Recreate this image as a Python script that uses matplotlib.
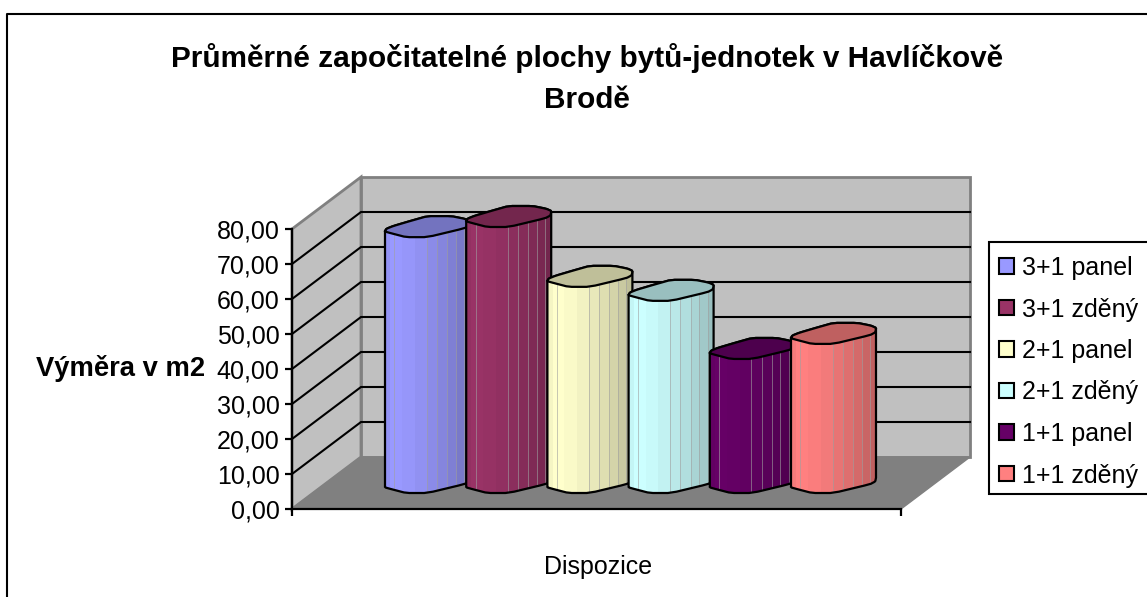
import matplotlib
matplotlib.use('Agg')
import matplotlib.pyplot as plt
from matplotlib.lines import Line2D
from matplotlib.patches import Patch, Polygon, Rectangle
import numpy as np

plt.rcParams['font.family'] = ['Liberation Sans', 'DejaVu Sans']

W, H = 1147, 597

# data
series = ['3+1 panel', '3+1 zděný', '2+1 panel', '2+1 zděný', '1+1 panel', '1+1 zděný']
values = [73.1, 76.0, 58.9, 54.9, 38.3, 42.6]
colors = ['#9999FF', '#993366', '#FFFFCC', '#CCFFFF', '#660066', '#FF8080']
y_ticks = [0, 10, 20, 30, 40, 50, 60, 70, 80]
y_labels = ['0,00', '10,00', '20,00', '30,00', '40,00', '50,00', '60,00', '70,00', '80,00']

# plot box in pixels, the y axis is the real value scale
X0, X1, Y0, Y80 = 292, 901, 509, 229
PX_X = X1 - X0
PX_V = (Y0 - Y80) / 80
DEPTH_X = 69 / PX_X
DEPTH_V = 52 / PX_V

# bar layout, as fractions of the axis
BAR_LEFT = (385 - X0) / PX_X
BAR_STEP = 81.2 / PX_X
BAR_W = 85 / PX_X
BAR_BASE = 16 / PX_V
CAP_H = 21 / PX_V

# lumpy 3d cylinder outline used by the old Excel chart
cap_u = np.array([0, .02, .10, .30, .50, .78, .94, 1, .99, .93, .50, .25, .08])
cap_w = np.array([.27, .40, .53, .77, 1, 1, .87, .76, .55, .42, 0, 0, .18])
strip_edges = [0, .06, .11, .2, .35, .49, .61, .73, .83, .93, 1]
strip_shade = [.96, 1, 1, .98, .95, .91, .87, .83, .79, .75]
seam_edges = [.11, .49, .61, .73, .83, .93]


def shade(col, k):
    return tuple(np.array(matplotlib.colors.to_rgb(col)) * k)


def smooth(u, w):
    # light corner cutting, then start at the leftmost point
    nu, nw = np.roll(u, -1), np.roll(w, -1)
    su = np.column_stack([.85 * u + .15 * nu, .15 * u + .85 * nu]).ravel()
    sw = np.column_stack([.85 * w + .15 * nw, .15 * w + .85 * nw]).ravel()
    start = np.argmin(su)
    su, sw = np.roll(su, -start), np.roll(sw, -start)
    su = (su - su.min()) / (su.max() - su.min())
    return su, sw


cap_u, cap_w = smooth(cap_u, cap_w)
right_i = int(np.argmax(cap_u))

fig = plt.figure(figsize=(W / 100, H / 100), dpi=100)
ax = fig.add_axes([X0 / W, 1 - Y0 / H, PX_X / W, (Y0 - Y80) / H])
ax.set_xlim(0, 1)
ax.set_ylim(0, 80)
ax.patch.set_visible(False)

# walls and floor
ax.add_patch(Polygon([(0, 0), (DEPTH_X, DEPTH_V), (DEPTH_X, 80 + DEPTH_V), (0, 80)],
                     fc='#C0C0C0', ec='#808080', lw=2, clip_on=False, zorder=1))
ax.add_patch(Rectangle((DEPTH_X, DEPTH_V), 1, 80, fc='#C0C0C0', ec='#808080', lw=2,
                       clip_on=False, zorder=1))
ax.add_patch(Polygon([(0, 0), (1, 0), (1 + DEPTH_X, DEPTH_V), (DEPTH_X, DEPTH_V)],
                     fc='#808080', ec='#808080', lw=1, clip_on=False, zorder=1))

for v in y_ticks[1:-1]:
    ax.plot([0, DEPTH_X, 1 + DEPTH_X], [v, v + DEPTH_V, v + DEPTH_V], color='black',
            lw=1.5, clip_on=False, zorder=2, solid_joinstyle='miter')

# bars
for i, (val, col) in enumerate(zip(values, colors)):
    left = BAR_LEFT + i * BAR_STEP
    z = 10 + i
    xs = left + cap_u * BAR_W
    low = BAR_BASE + cap_w * CAP_H
    high = low + val
    # silhouette: upper outline of the top, then lower outline of the base
    body = list(zip(xs[:right_i + 1], high[:right_i + 1])) + \
        list(zip(xs[right_i:], low[right_i:])) + [(xs[0], low[0])]
    outline = Polygon(body, fc='none', ec='none', zorder=z, clip_on=False)
    ax.add_patch(outline)
    for j in range(len(strip_shade)):
        r = Rectangle((left + strip_edges[j] * BAR_W, BAR_BASE - 1),
                      (strip_edges[j + 1] - strip_edges[j]) * BAR_W + .0005, val + CAP_H + 2,
                      fc=shade(col, strip_shade[j]), ec='none', zorder=z)
        ax.add_patch(r)
        r.set_clip_box(None)
        r.set_clip_path(outline)
    for e in seam_edges:
        seam = Line2D([left + e * BAR_W] * 2, [BAR_BASE - 1, BAR_BASE + val + CAP_H],
                      color='#A0A0A0', lw=.6, alpha=.7, zorder=z)
        ax.add_line(seam)
        seam.set_clip_box(None)
        seam.set_clip_path(outline)
    ax.add_patch(Polygon(body, fc='none', ec='black', lw=1.6, zorder=z + .1, clip_on=False))
    ax.add_patch(Polygon(list(zip(xs, high)), fc=shade(col, .75), ec='black', lw=1.6,
                         zorder=z + .2, clip_on=False))

# axes
for s in ['top', 'right']:
    ax.spines[s].set_visible(False)
for s in ['left', 'bottom']:
    ax.spines[s].set_linewidth(1.6)
    ax.spines[s].set_zorder(30)
ax.set_yticks(y_ticks)
ax.set_yticklabels(y_labels, fontsize=18)
ax.set_xticks([0, 1])
ax.set_xticklabels([])
ax.tick_params(axis='both', length=5, width=1.6, pad=4)

fig.text(598 / W, 1 - 567 / H, 'Dispozice', fontsize=18, ha='center', va='center')
fig.text(121 / W, 1 - 369 / H, 'Výměra v m2', fontsize=19.7, fontweight='bold', ha='center', va='center')
fig.text(587 / W, 1 - 78.5 / H, 'Průměrné započitatelné plochy bytů-jednotek v Havlíčkově\nBrodě',
         fontsize=21.4, fontweight='bold', ha='center', va='center', linespacing=1.62)

# legend, its box runs past the right edge of the image
fig.add_artist(Rectangle((989 / W, 1 - 494 / H), 200 / W, 252 / H, fc='white', ec='black', lw=1.5,
                         transform=fig.transFigure))
handles = [Patch(fc=c, ec='black', lw=1.5) for c in colors]
fig.legend(handles, series, loc='upper left', bbox_to_anchor=(999 / W, 1 - 256 / H), frameon=False,
           fontsize=18, borderpad=0, borderaxespad=0, labelspacing=.70, handlelength=.58,
           handleheight=.58, handletextpad=.36)

# chart border, cut off by the image on two sides
fig.add_artist(Line2D([7 / W, 7 / W, 1], [0, 1 - 14 / H, 1 - 14 / H], color='black', lw=1.5))

fig.savefig('out.png', dpi=100)
